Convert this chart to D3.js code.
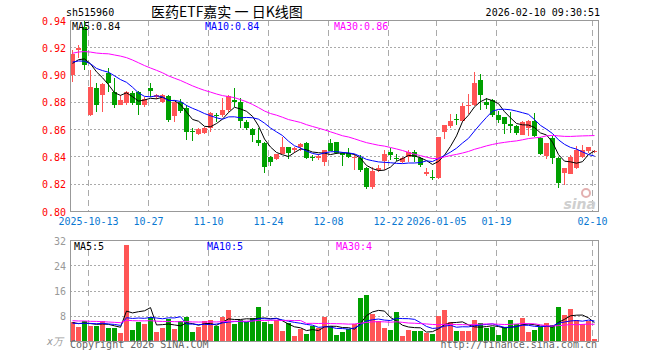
<!DOCTYPE html>
<html lang="zh">
<head>
<meta charset="utf-8">
<script src="https://d3js.org/d3.v7.min.js"></script>
<title>医药ETF嘉实 日K线图</title>
<style>
  body { margin: 0; background: #fff; }
  text { font-family: "DejaVu Sans Mono", monospace; font-size: 10px; }
  .grid-h { stroke: #aaa; stroke-dasharray: 2,2; shape-rendering: crispEdges; }
  .grid-v { stroke: #aaa; stroke-dasharray: 6,4; shape-rendering: crispEdges; }
  .frame { fill: none; stroke: #999; shape-rendering: crispEdges; }
  .ma { fill: none; stroke-width: 1; }
</style>
</head>
<body>
<svg id="chart" width="660" height="360"></svg>
<script>

// trading days shown
var dates = ["2025-09-30",
  "2025-10-09","2025-10-10","2025-10-13","2025-10-14","2025-10-15","2025-10-16","2025-10-17","2025-10-20","2025-10-21",
  "2025-10-22","2025-10-23","2025-10-24","2025-10-27","2025-10-28","2025-10-29","2025-10-30","2025-10-31",
  "2025-11-03","2025-11-04","2025-11-05","2025-11-06","2025-11-07","2025-11-10","2025-11-11","2025-11-12","2025-11-13",
  "2025-11-14","2025-11-17","2025-11-18","2025-11-19","2025-11-20","2025-11-21","2025-11-24","2025-11-25","2025-11-26",
  "2025-11-27","2025-11-28","2025-12-01","2025-12-02","2025-12-03","2025-12-04","2025-12-05","2025-12-08","2025-12-09",
  "2025-12-10","2025-12-11","2025-12-12","2025-12-15","2025-12-16","2025-12-17","2025-12-18","2025-12-19","2025-12-22",
  "2025-12-23","2025-12-24","2025-12-25","2025-12-26","2025-12-29","2025-12-30","2025-12-31","2026-01-05","2026-01-06",
  "2026-01-07","2026-01-08","2026-01-09","2026-01-12","2026-01-13","2026-01-14","2026-01-15","2026-01-16","2026-01-19",
  "2026-01-20","2026-01-21","2026-01-22","2026-01-23","2026-01-26","2026-01-27","2026-01-28","2026-01-29","2026-01-30",
  "2026-02-02","2026-02-03","2026-02-04","2026-02-05","2026-02-06","2026-02-09","2026-02-10"];

var open = [0.8992,0.9180,0.9350,0.8704,0.8904,0.8850,0.9014,0.8870,0.8777,0.8789,
  0.8863,0.8870,0.8772,0.8899,0.8838,0.8797,0.8843,0.8691,0.8797,0.8757,
  0.8584,0.8562,0.8570,0.8606,0.8706,0.8704,0.8740,0.8814,0.8797,0.8655,
  0.8601,0.8520,0.8496,0.8398,0.8381,0.8423,0.8471,0.8447,0.8471,0.8499,
  0.8393,0.8391,0.8361,0.8501,0.8508,0.8423,0.8423,0.8393,0.8391,0.8313,
  0.8174,0.8300,0.8367,0.8430,0.8389,0.8361,0.8398,0.8435,0.8386,0.8271,
  0.8249,0.8247,0.8581,0.8623,0.8677,0.8660,0.8774,0.8777,0.8960,0.8797,
  0.8814,0.8704,0.8692,0.8638,0.8623,0.8557,0.8606,0.8660,0.8537,0.8398,
  0.8537,0.8386,0.8276,0.8276,0.8313,0.8398,0.8435,0.8430];

var high = [0.9180,0.9217,0.9400,0.9034,0.8937,0.8940,0.9046,0.8973,0.8850,0.8877,
  0.8877,0.8877,0.8838,0.8937,0.8860,0.8855,0.8850,0.8797,0.8820,0.8777,
  0.8606,0.8610,0.8618,0.8726,0.8720,0.8826,0.8850,0.8904,0.8826,0.8667,
  0.8606,0.8606,0.8508,0.8406,0.8416,0.8545,0.8471,0.8467,0.8496,0.8506,
  0.8413,0.8420,0.8447,0.8528,0.8508,0.8435,0.8465,0.8418,0.8408,0.8325,
  0.8325,0.8337,0.8445,0.8460,0.8418,0.8398,0.8447,0.8447,0.8398,0.8313,
  0.8303,0.8545,0.8630,0.8711,0.8710,0.8792,0.8858,0.9017,0.9002,0.8826,
  0.8820,0.8733,0.8692,0.8726,0.8633,0.8660,0.8667,0.8716,0.8545,0.8501,
  0.8552,0.8398,0.8313,0.8410,0.8474,0.8484,0.8467,0.8447];

var low = [0.8948,0.9120,0.9034,0.8697,0.8728,0.8728,0.8875,0.8757,0.8777,0.8775,
  0.8775,0.8704,0.8765,0.8838,0.8820,0.8790,0.8653,0.8653,0.8718,0.8520,
  0.8515,0.8555,0.8562,0.8581,0.8655,0.8691,0.8728,0.8765,0.8606,0.8594,
  0.8507,0.8479,0.8276,0.8327,0.8377,0.8416,0.8381,0.8425,0.8437,0.8381,
  0.8364,0.8372,0.8332,0.8437,0.8416,0.8332,0.8386,0.8303,0.8288,0.8164,
  0.8164,0.8288,0.8303,0.8376,0.8364,0.8352,0.8362,0.8362,0.8325,0.8259,
  0.8225,0.8235,0.8528,0.8606,0.8628,0.8655,0.8709,0.8772,0.8740,0.8745,
  0.8690,0.8643,0.8562,0.8570,0.8557,0.8557,0.8548,0.8543,0.8410,0.8381,
  0.8347,0.8171,0.8193,0.8269,0.8308,0.8386,0.8425,0.8425];

var close = [0.9149,0.9195,0.9070,0.8911,0.8776,0.8931,0.8940,0.8777,0.8814,0.8870,
  0.8789,0.8777,0.8819,0.8875,0.8850,0.8850,0.8667,0.8797,0.8733,0.8581,
  0.8578,0.8601,0.8610,0.8716,0.8700,0.8740,0.8843,0.8802,0.8655,0.8614,
  0.8555,0.8496,0.8318,0.8361,0.8416,0.8471,0.8430,0.8464,0.8491,0.8386,
  0.8390,0.8405,0.8447,0.8440,0.8430,0.8410,0.8391,0.8398,0.8300,0.8171,
  0.8293,0.8318,0.8416,0.8411,0.8385,0.8391,0.8435,0.8398,0.8337,0.8288,
  0.8247,0.8545,0.8630,0.8660,0.8670,0.8772,0.8779,0.8936,0.8850,0.8777,
  0.8704,0.8667,0.8643,0.8623,0.8570,0.8655,0.8660,0.8552,0.8423,0.8496,
  0.8391,0.8203,0.8313,0.8398,0.8447,0.8447,0.8467,0.8440];

// volume, 万
var volume = [5.9,4.5,6.4,4.8,4.8,6.4,4.0,4.0,2.6,30.4,
  3.5,5.9,5.4,7.7,2.9,4.0,7.0,3.8,6.3,7.6,
  2.9,4.4,6.3,6.6,4.8,7.6,9.7,5.4,6.6,5.9,
  7.2,10.8,6.0,5.4,6.6,3.2,5.6,1.7,3.8,2.2,
  4.8,4.0,7.6,4.9,1.9,2.9,3.8,5.3,13.7,14.6,
  8.6,6.3,4.2,3.5,9.3,1.7,3.5,3.2,3.2,2.6,
  2.3,8.0,9.8,6.1,3.2,3.2,3.2,6.7,5.6,4.2,
  4.5,1.9,4.5,6.7,5.3,7.4,2.9,3.5,4.5,5.7,
  5.1,10.8,8.2,10.1,6.7,5.3,6.3,0.6];

// days before the window, estimated from where the MA lines start
var earlierCloses = [0.893,0.897,0.902,0.899,0.904,0.900,0.903,0.906,
  0.921,0.931,0.938,0.944,0.941,0.936,0.939,0.934,0.932,
  0.922,0.918,0.917,0.912,0.908,0.910,
  0.912,0.909,0.906,0.904,0.909,0.907];
var earlierVolumes = [7.2,6.1,8.4,5.5,9.0,6.8,7.5,5.9,6.6,8.1,
  7.0,6.2,5.8,7.7,6.5,6.9,5.6,7.3,6.0,6.4,
  5.2,6.1,5.0,5.8,4.9,6.3,5.4,5.7,6.0];

var priceTicks = [0.80,0.82,0.84,0.86,0.88,0.90,0.92,0.94];
var volTicks = [8,16,24,32];
var tickDates = ["2025-10-13","2025-10-27","2025-11-10","2025-11-24","2025-12-08","2025-12-22","2026-01-05","2026-01-19","2026-02-10"];
var tickLabels = ["2025-10-13","10-27","11-10","11-24","12-08","12-22","2026-01-05","01-19","02-10"];

var maLabels = ["MA5:0.84","MA10:0.84","MA30:0.86"];
var volMaLabels = ["MA5:5","MA10:5","MA30:4"];
var maColors = ["#000","#0000ff","#ff00ff"];
var maPeriods = [5,10,30];

var red = "#ff5555", green = "#00a000";

var left = 70, right = 598;
var main = {top: 20, bottom: 211};
var vol = {top: 240, bottom: 341};

var svg = d3.select("#chart");

var x = d3.scaleBand()
    .domain(dates)
    .range([left, left + 6 * dates.length - 1])
    .paddingInner(1 / 6)
    .paddingOuter(0);

var y = d3.scaleLinear().domain([0.80, 0.94]).range([main.bottom, main.top]);
var yv = d3.scaleLinear().domain([0, 32]).range([vol.bottom, vol.top]);

function movingAvg(prior, values, n) {
  var all = prior.concat(values), off = prior.length;
  return values.map(function(v, i) {
    return d3.mean(all.slice(off + i - n + 1, off + i + 1));
  });
}

function cx(i) { return x(dates[i]) + 2.5; }

// header
svg.append("text").attr("x", 66).attr("y", 16).attr("fill", "#000").text("sh515960");
svg.append("text").attr("x", 151).attr("y", 17)
    .style("font-family", "'Noto Sans CJK SC', sans-serif").style("font-size", "14px")
    .attr("fill", "#000").text("医药ETF嘉实 一 日K线图");
svg.append("text").attr("x", 600).attr("y", 16).attr("text-anchor", "end")
    .attr("fill", "#000").text("2026-02-10 09:30:51");

// grid, main
svg.selectAll(".gm").data(priceTicks.slice(1, -1)).enter().append("line")
    .attr("class", "grid-h")
    .attr("x1", left).attr("x2", right)
    .attr("y1", function(d) { return Math.round(y(d)) + 0.5; })
    .attr("y2", function(d) { return Math.round(y(d)) + 0.5; });

svg.selectAll(".gv").data(volTicks.slice(0, -1)).enter().append("line")
    .attr("class", "grid-h")
    .attr("x1", left).attr("x2", right)
    .attr("y1", function(d) { return Math.round(yv(d)) + 0.5; })
    .attr("y2", function(d) { return Math.round(yv(d)) + 0.5; });

[main, vol].forEach(function(p) {
  svg.append("g").selectAll("line").data(tickDates).enter().append("line")
      .attr("class", "grid-v")
      .attr("x1", function(d) { return x(d) + 0.5; })
      .attr("x2", function(d) { return x(d) + 0.5; })
      .attr("y1", p.top).attr("y2", p.bottom);
});

// sina watermark
var wm = svg.append("g").attr("fill", "#cfcfcf");
wm.append("circle").attr("cx", 586).attr("cy", 193).attr("r", 4).attr("fill", "none")
    .attr("stroke", "#e3b0b0").attr("stroke-width", 2);
wm.append("text").attr("x", 596).attr("y", 209).attr("text-anchor", "end")
    .style("font-family", "'DejaVu Sans', sans-serif").style("font-size", "14px")
    .style("font-weight", "bold").style("font-style", "italic").text("sina");

// candles
var candles = svg.append("g").selectAll("g").data(dates).enter().append("g")
    .attr("fill", function(d, i) { return close[i] >= open[i] ? red : green; })
    .attr("stroke", function(d, i) { return close[i] >= open[i] ? red : green; })
    .style("shape-rendering", "crispEdges");

candles.append("line")
    .attr("x1", function(d, i) { return cx(i); })
    .attr("x2", function(d, i) { return cx(i); })
    .attr("y1", function(d, i) { return y(high[i]); })
    .attr("y2", function(d, i) { return y(low[i]); });

candles.append("rect")
    .attr("stroke", "none")
    .attr("x", function(d) { return x(d); })
    .attr("width", x.bandwidth())
    .attr("y", function(d, i) { return Math.round(y(Math.max(open[i], close[i]))); })
    .attr("height", function(d, i) {
      return Math.max(1, Math.round(Math.abs(y(open[i]) - y(close[i]))));
    });

// volume bars
svg.append("g").selectAll("rect").data(dates).enter().append("rect")
    .style("shape-rendering", "crispEdges")
    .attr("fill", function(d, i) { return close[i] >= open[i] ? red : green; })
    .attr("x", function(d) { return x(d); })
    .attr("width", x.bandwidth())
    .attr("y", function(d, i) { return Math.round(yv(volume[i])); })
    .attr("height", function(d, i) { return vol.bottom - Math.round(yv(volume[i])); });

// moving averages
svg.append("clipPath").attr("id", "clipMain").append("rect")
    .attr("x", left).attr("y", main.top).attr("width", right - left).attr("height", main.bottom - main.top);

maPeriods.forEach(function(n, k) {
  var ma = movingAvg(earlierCloses, close, n);
  svg.append("path").attr("class", "ma").attr("clip-path", "url(#clipMain)")
      .attr("stroke", maColors[k])
      .attr("d", d3.line().x(function(d, i) { return cx(i); }).y(function(d) { return y(d); })(ma));

  var vma = movingAvg(earlierVolumes, volume, n);
  svg.append("path").attr("class", "ma")
      .attr("stroke", maColors[k])
      .attr("d", d3.line().x(function(d, i) { return cx(i); }).y(function(d) { return yv(d); })(vma));
});

// frames
svg.append("rect").attr("class", "frame")
    .attr("x", left + 0.5).attr("y", main.top + 0.5)
    .attr("width", right - left).attr("height", main.bottom - main.top);
svg.append("rect").attr("class", "frame")
    .attr("x", left + 0.5).attr("y", vol.top + 0.5)
    .attr("width", right - left).attr("height", vol.bottom - vol.top);

// MA legends
var maX = [72, 205, 334];
maLabels.forEach(function(t, k) {
  svg.append("text").attr("x", maX[k]).attr("y", 30).attr("fill", maColors[k]).text(t);
});
volMaLabels.forEach(function(t, k) {
  svg.append("text").attr("x", maX[k] + 2).attr("y", 250).attr("fill", maColors[k]).text(t);
});

// axes labels
svg.append("g").selectAll("text").data(priceTicks).enter().append("text")
    .attr("x", 66).attr("y", function(d) { return y(d) + 1; })
    .attr("dy", "0.35em").attr("text-anchor", "end").attr("fill", "#ff0000")
    .text(d3.format(".2f"));

svg.append("g").selectAll("text").data(volTicks).enter().append("text")
    .attr("x", 66).attr("y", function(d) { return yv(d) + 1; })
    .attr("dy", "0.35em").attr("text-anchor", "end").attr("fill", "#999")
    .text(function(d) { return d; });
svg.append("text").attr("x", 63).attr("y", 345).attr("text-anchor", "end")
    .attr("fill", "#999").style("font-style", "italic").text("x万");

svg.append("g").selectAll("text").data(tickDates).enter().append("text")
    .attr("x", function(d) { return x(d) + 0.5; }).attr("y", 225)
    .attr("text-anchor", "middle").attr("fill", "#0a78d2")
    .text(function(d, i) { return tickLabels[i]; });

// footer
svg.append("text").attr("x", 70).attr("y", 348).attr("fill", "#666").text("Copyright 2026 SINA.COM");
svg.append("text").attr("x", 597).attr("y", 348).attr("text-anchor", "end")
    .attr("fill", "#666").text("http://finance.sina.com.cn");

</script>
</body>
</html>
